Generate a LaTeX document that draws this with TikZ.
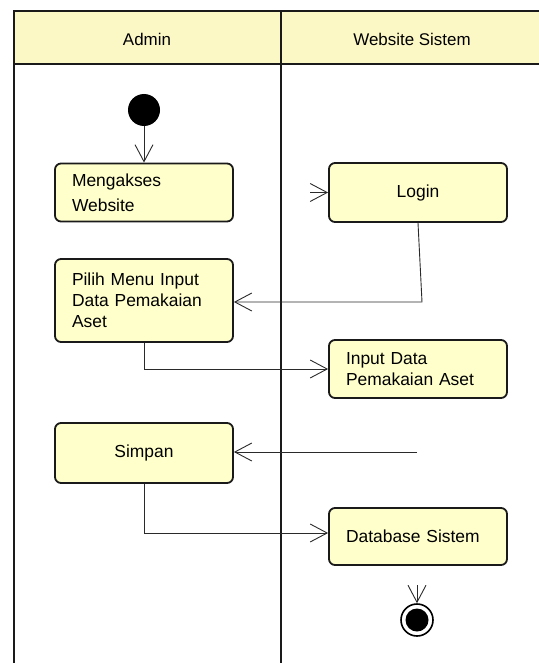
\documentclass[tikz,border=0pt]{standalone}
\usepackage{fontspec}
\setmainfont{Liberation Sans}
\usetikzlibrary{arrows.meta}
\definecolor{boxfill}{HTML}{FFFFCC}
\definecolor{headfill}{HTML}{FCF8C6}
\definecolor{lanecol}{HTML}{1A1A1A}
\definecolor{flowcol}{HTML}{2A2A2A}
\tikzset{
  actbox/.style={draw=lanecol, line width=1.8bp, fill=boxfill, rounded corners=6bp,
    minimum width=178bp, inner xsep=17bp, inner ysep=4bp,
    font=\fontsize{17.5}{21}\selectfont},
  actleft/.style={actbox, text width=144bp, align=left},
  actcenter/.style={actbox, text width=144bp, align=center},
  flow/.style={draw=flowcol, line width=0.9bp,
    -{Straight Barb[length=17bp,width=18bp,line width=0.9bp]}},
  lane/.style={draw=lanecol, line width=2.4bp},
  headtext/.style={font=\fontsize{17}{20}\selectfont},
}
\begin{document}
\begin{tikzpicture}[x=1bp,y=-1bp]
\useasboundingbox (0,0) rectangle (539,663);
% swimlanes
\fill[headfill] (14,11) rectangle (539,64);
\draw[lane] (539,11) -- (14,11) -- (14,663);
\draw[lane] (14,64) -- (539,64);
\draw[lane] (281,11) -- (281,663);
\node[headtext] (hadmin) at (147,39) {Admin};
\node[headtext] (hweb) at (412,39) {Website Sistem};
% nodes
\node[circle, fill=black, minimum size=32bp, inner sep=0pt] (start) at (144,110) {};
\node[actleft, minimum height=58bp] (akses) at (144,192.5) {Mengakses\\[4bp]Website};
\node[actcenter, minimum height=59bp] (login) at (418,192.5) {Login};
\node[actleft, minimum height=83bp] (pilih) at (144,300.5) {Pilih Menu Input\\Data Pemakaian\\Aset};
\node[actleft, minimum height=58bp] (input) at (418,369) {Input Data\\Pemakaian Aset};
\node[actcenter, minimum height=60bp] (simpan) at (144,453) {Simpan};
\node[actleft, minimum height=57bp] (db) at (418,536.5) {Database Sistem};
\node[circle, draw=black, line width=1.6bp, minimum size=32bp, inner sep=0pt] (final) at (417,620) {};
\fill[black] (final.center) circle (11.5bp);
% free ends
\coordinate (loginin) at (310,192.5);
\coordinate (simpanin) at (417,452);
\coordinate (finalin) at (417,585);
% connectors
\draw[flow] (start) -- (akses);
\draw[flow] (loginin) -- (login.west);
\draw[flow] (login.south) -- (422,302) -- (pilih.east |- 0,302);
\draw[flow] (pilih.south) -- (144,369) -- (input.west);
\draw[flow] (simpanin) -- (simpan.east |- simpanin);
\draw[flow] (simpan.south) -- (144,533) -- (db.west |- 0,533);
\draw[flow] (finalin) -- (final.north);
\end{tikzpicture}
\end{document}
